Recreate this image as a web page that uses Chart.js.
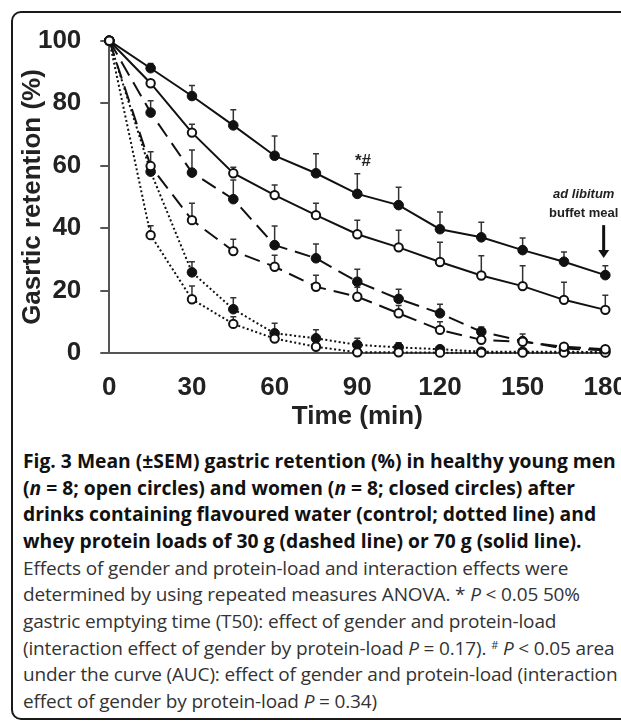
<!DOCTYPE html>
<html>
<head>
<meta charset="utf-8">
<script src="https://cdn.jsdelivr.net/npm/chart.js@4.4.1/dist/chart.umd.min.js"></script>
<style>
  html, body { margin: 0; padding: 0; background: #fff; width: 621px; height: 721px; overflow: hidden; position: relative; }
  #frame { position: absolute; left: 11px; top: 11px; width: 640px; height: 705px; border: 2px solid #1a1a1a; border-radius: 10px; }
  #wrap { position: absolute; left: 0; top: 0; width: 646px; height: 440px; }
  .ann { position: absolute; font-family: Arial, "Liberation Sans", sans-serif; font-weight: bold; color: #222; white-space: nowrap; line-height: 1; }
  #cap { position: absolute; left: 23px; top: 448px; font-family: "Open Sans", "Noto Sans", sans-serif; line-height: 26.67px; color: #1a1a1a; }
  #cap div { white-space: nowrap; height: 26.67px; }
  #cap .b { font-weight: 700; color: #111; font-size: 19.3px; }
  #cap .n { font-weight: 400; color: #333; font-size: 19px; letter-spacing: -0.15px; }
  #cap sup { font-size: 11px; line-height: 0; vertical-align: 0.55em; }
</style>
</head>
<body>
<div id="frame"></div>
<div id="wrap"><canvas id="c" width="646" height="440" style="width:646px;height:440px"></canvas></div>
<div class="ann" style="left:355px; top:152px; font-size:17px;">*#</div>
<div class="ann" style="left:553px; top:187px; font-size:13px; font-style:italic;">ad libitum</div>
<div class="ann" style="left:549px; top:206px; font-size:13px;">buffet meal</div>
<div id="cap">
  <div class="b">Fig. 3 Mean (±SEM) gastric retention (%) in healthy young men</div>
  <div class="b">(<i>n</i> = 8; open circles) and women (<i>n</i> = 8; closed circles) after</div>
  <div class="b">drinks containing flavoured water (control; dotted line) and</div>
  <div class="b">whey protein loads of 30 g (dashed line) or 70 g (solid line).</div>
  <div class="n">Effects of gender and protein-load and interaction effects were</div>
  <div class="n">determined by using repeated measures ANOVA. * <i>P</i> &lt; 0.05 50%</div>
  <div class="n">gastric emptying time (T50): effect of gender and protein-load</div>
  <div class="n">(interaction effect of gender by protein-load <i>P</i> = 0.17). <sup>#</sup> <i>P</i> &lt; 0.05 area</div>
  <div class="n">under the curve (AUC): effect of gender and protein-load (interaction</div>
  <div class="n">effect of gender by protein-load <i>P</i> = 0.34)</div>
</div>
<script>
// ---- data ----
const timeMin = [0, 15, 30, 45, 60, 75, 90, 105, 120, 135, 150, 165, 180];
const yTicks = [0, 20, 40, 60, 80, 100];
const xTicks = [0, 30, 60, 90, 120, 150, 180];

const men70 = [100, 86.4, 70.6, 57.6, 50.6, 44.2, 38.1, 33.9, 29.2, 24.9, 21.5, 17.1, 13.9];
const men70Err = [0, 0.5, 2.7, 1.9, 3.2, 3.8, 4.5, 5.5, 6.3, 6.3, 6.5, 5.6, 4.7];
const women70 = [100, 91.2, 82.3, 72.9, 63.2, 57.6, 51.0, 47.4, 39.7, 37.1, 33.0, 29.3, 25.0];
const women70Err = [0, 1.5, 3.4, 5.0, 6.3, 6.2, 6.4, 5.7, 5.5, 4.8, 3.9, 3.1, 3.0];
const men30 = [100, 59.9, 42.6, 32.7, 27.7, 21.3, 18.1, 12.8, 7.5, 4.3, 3.7, 2.1, 1.3];
const men30Err = [0, 4.6, 5.4, 3.8, 3.7, 3.7, 3.0, 2.5, 2.6, 1.5, 2.5, 0.5, 0.5];
const women30 = [100, 77.0, 57.8, 49.3, 34.6, 30.4, 22.9, 17.4, 12.8, 6.9, 3.9, 1.5, 1.0];
const women30Err = [0, 3.8, 7.2, 6.1, 6.1, 4.6, 4.0, 3.1, 2.9, 1.5, 1.0, 0.5, 0.5];
const menCtl = [100, 37.8, 17.3, 9.4, 4.7, 2.1, 0.3, 0.3, 0.2, 0.2, 0.2, 0.2, 0.2];
const menCtlErr = [0, 3.0, 4.2, 2.3, 2.0, 1.0, 0.5, 0.3, 0.2, 0.2, 0.2, 0.2, 0.2];
const womenCtl = [100, 58.1, 25.9, 14.1, 6.4, 4.8, 2.7, 1.9, 1.3, 0.5, 0.5, 0.5, 0.4];
const womenCtlErr = [0, 2.0, 3.4, 3.7, 3.2, 2.7, 2.1, 1.5, 1.0, 0.5, 0.5, 0.3, 0.3];

// arrow annotation (x in minutes, y in %)
const arrowX = 179.4, arrowFrom = 41, arrowTo = 30.5;

const INK = '#111';
function pts(arr) { return arr.map((v, i) => ({ x: timeMin[i], y: v })); }
function ds(label, values, errs, open, dash) {
  return {
    label, data: pts(values), errs,
    borderColor: INK, borderWidth: 2, borderDash: dash, borderCapStyle: 'butt',
    pointRadius: open ? 4.2 : 4.8, pointBorderWidth: open ? 2 : 1,
    pointBackgroundColor: open ? '#fff' : INK, pointBorderColor: INK,
    tension: 0, clip: false, fill: false
  };
}
const DASH = [16, 8], DOT = [2, 2.5];

const errorBars = {
  id: 'errorBars',
  beforeDatasetsDraw(chart) {
    const { ctx, scales: { x, y } } = chart;
    ctx.save();
    ctx.strokeStyle = '#333';
    ctx.lineWidth = 1.5;
    chart.data.datasets.forEach(d => {
      d.data.forEach((p, i) => {
        const e = d.errs[i];
        if (!e) return;
        const px = x.getPixelForValue(p.x);
        const y0 = y.getPixelForValue(p.y);
        const y1 = y.getPixelForValue(p.y + e);
        ctx.beginPath();
        ctx.moveTo(px, y0); ctx.lineTo(px, y1);
        ctx.moveTo(px - 3, y1); ctx.lineTo(px + 3, y1);
        ctx.stroke();
      });
    });
    ctx.restore();
  },
  afterDraw(chart) {
    const { ctx, scales: { x, y } } = chart;
    const px = x.getPixelForValue(arrowX);
    const a = y.getPixelForValue(arrowFrom), b = y.getPixelForValue(arrowTo);
    ctx.save();
    ctx.strokeStyle = '#111'; ctx.fillStyle = '#111'; ctx.lineWidth = 3;
    ctx.beginPath(); ctx.moveTo(px, a); ctx.lineTo(px, b - 6); ctx.stroke();
    ctx.beginPath(); ctx.moveTo(px - 5.5, b - 8); ctx.lineTo(px + 5.5, b - 8); ctx.lineTo(px, b); ctx.closePath(); ctx.fill();
    ctx.restore();
  }
};

new Chart(document.getElementById('c'), {
  type: 'line',
  data: {
    datasets: [
      ds('Men 70 g', men70, men70Err, true, []),
      ds('Men 30 g', men30, men30Err, true, DASH),
      ds('Men control', menCtl, menCtlErr, true, DOT),
      ds('Women 70 g', women70, women70Err, false, []),
      ds('Women 30 g', women30, women30Err, false, DASH),
      ds('Women control', womenCtl, womenCtlErr, false, DOT)
    ]
  },
  options: {
    responsive: false, animation: false, devicePixelRatio: 1,
    layout: { padding: { left: 0, right: 0, top: 40.7, bottom: 0 } },
    plugins: { legend: { display: false }, tooltip: { enabled: false } },
    scales: {
      x: {
        type: 'linear', min: 0, max: 180,
        afterBuildTicks: s => { s.ticks = xTicks.map(v => ({ value: v })); },
        afterFit: s => { s.height = 86.7; },
        grid: { drawOnChartArea: false, drawTicks: false },
        border: { color: '#555', width: 2 },
        ticks: { font: { family: 'Arial, "Liberation Sans"', size: 26, weight: 'bold' }, color: '#222', padding: 19, maxRotation: 0 },
        title: { display: true, text: 'Time (min)', font: { family: 'Arial, "Liberation Sans"', size: 26, weight: 'bold' }, color: '#222', padding: { top: 0, bottom: 8 } }
      },
      y: {
        min: 0, max: 100,
        afterBuildTicks: s => { s.ticks = yTicks.map(v => ({ value: v })); },
        afterFit: s => { s.width = 109.3; },
        grid: { drawOnChartArea: false, tickLength: 9, color: '#555', lineWidth: 2 },
        border: { color: '#555', width: 2 },
        ticks: { font: { family: 'Arial, "Liberation Sans"', size: 26, weight: 'bold' }, color: '#222', padding: 19 },
        title: { display: true, text: 'Gasrtic retention (%)', font: { family: 'Arial, "Liberation Sans"', size: 26, weight: 'bold' }, color: '#222', padding: { top: 17, bottom: 0 } }
      }
    }
  },
  plugins: [errorBars]
});
</script>
</body>
</html>
